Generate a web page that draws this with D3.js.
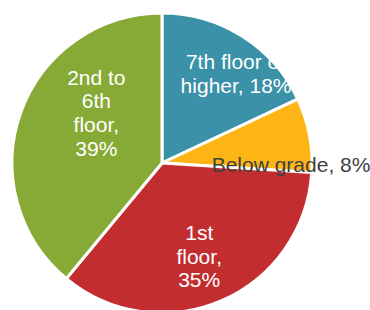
<!DOCTYPE html>
<meta charset="utf-8">
<style>
  body { margin: 0; background: #fff; }
  svg text { font-family: "Liberation Sans", Arial, sans-serif; font-size: 21px; }
</style>
<body>
<svg width="370" height="310"></svg>
<script src="https://d3js.org/d3.v7.min.js"></script>
<script>
// data
var categories = ["7th floor or higher", "Below grade", "1st floor", "2nd to 6th floor"];
var shares = [18, 8, 35, 39];
var labelLines = [
  ["7th floor or", "higher, 18%"],
  ["Below grade, 8%"],
  ["1st", "floor,", "35%"],
  ["2nd to", "6th", "floor,", "39%"]
];
var colors = ["#3A91A8", "#FDB515", "#C22D2F", "#86AA35"];

var cx = 162, cy = 163, radius = 150;

var svg = d3.select("svg");
var g = svg.append("g").attr("transform", "translate(" + cx + "," + cy + ")");

var pie = d3.pie().sort(null).value(function(d) { return d; });
var arcs = pie(shares);

var arc = d3.arc().innerRadius(0).outerRadius(radius);

g.selectAll("path")
  .data(arcs)
  .enter().append("path")
    .attr("d", arc)
    .attr("fill", function(d, i) { return colors[i]; })
    .attr("stroke", "#fff")
    .attr("stroke-width", 3)
    .attr("stroke-linejoin", "round");

// label placement (Excel-like best fit)
var lineH = 23.7;

arcs.forEach(function(a, i) {
  var mid = (a.startAngle + a.endAngle) / 2;
  if (i === 1) {
    // "Below grade" runs out of the slice, left aligned, dark text
    var px = Math.sin(mid) * radius * 0.32;
    var py = -Math.cos(mid) * radius * 0.32;
    g.append("text")
      .attr("x", px + 2.5)
      .attr("y", py + 18)
      .attr("fill", "#404040")
      .text(labelLines[i][0]);
    return;
  }
  var c;
  if (i === 0) c = [Math.sin(0.70) * 115, -Math.cos(0.70) * 115 - 1];
  if (i === 2) {
    c = d3.arc().innerRadius(100).outerRadius(100).centroid(a);
    c = [c[0] - 2.5, c[1] + 2];
  }
  if (i === 3) c = [Math.sin(5.37) * 83, -Math.cos(5.37) * 83 + 1];
  var n = labelLines[i].length;
  var t = g.append("text")
    .attr("text-anchor", "middle")
    .attr("fill", "#fff");
  labelLines[i].forEach(function(line, k) {
    t.append("tspan")
      .attr("x", c[0])
      .attr("y", c[1] + (k - (n - 1) / 2) * lineH + 7)
      .text(line);
  });
});
</script>
</body>
